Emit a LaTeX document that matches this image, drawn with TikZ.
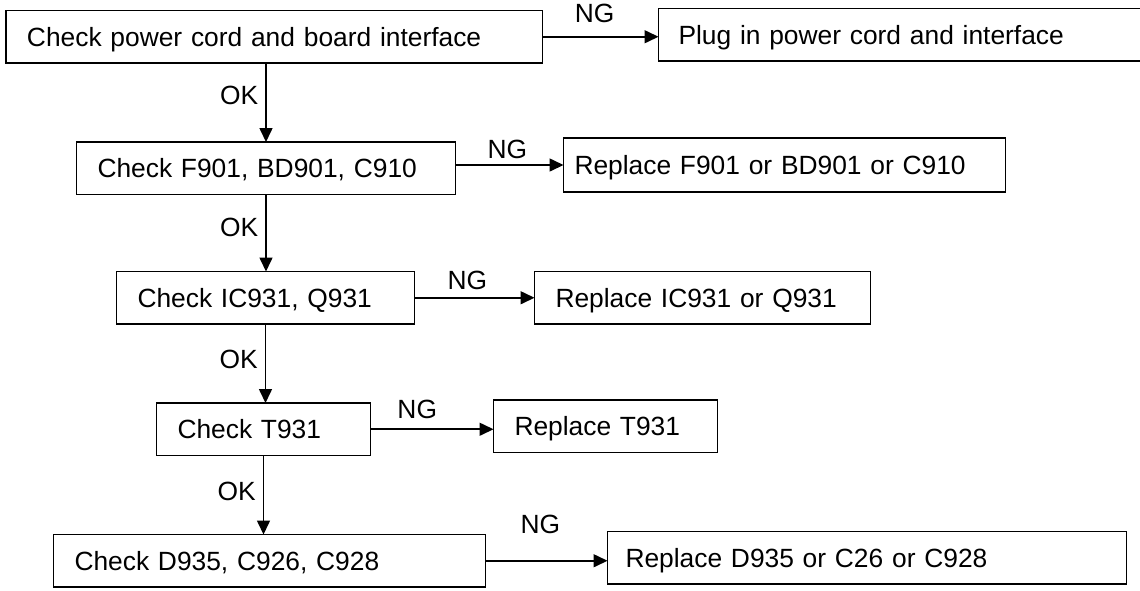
\documentclass[tikz,border=0pt]{standalone}
\usepackage{fontspec}
\setmainfont{Liberation Sans}
\usetikzlibrary{arrows.meta, positioning}
\tikzset{
  chkbox/.style = {
    rectangle, draw=black, line width=1.1pt, outer sep=0pt,
    minimum height=1.05cm, inner xsep=0.42cm, inner ysep=0pt,
    text height=0.38cm, text depth=0pt, align=left
  },
  arrow/.style = {-{Triangle[length=0.28cm, width=0.26cm]}, line width=0.9pt}
}

\begin{document}
\begin{tikzpicture}[
  every node/.style={font=\fontsize{15pt}{18pt}\selectfont},
  lbl/.style={inner sep=0pt, text height=0.38cm, text depth=0pt}
]
\useasboundingbox (0,0) rectangle (22.8,-11.8);

%% ── Left column: checks ─────────────────────────────
\node[chkbox, minimum width=10.73cm, text width=9.89cm,
      anchor=north west]
  (chkcord) at (0.12,-0.21) {Check power cord and board interface};

\node[chkbox, minimum width=7.58cm, text width=6.74cm,
      below=1.58cm of chkcord.south west, anchor=north west, xshift=1.41cm]
  (chkfuse) {Check F901, BD901, C910};

\node[chkbox, minimum width=5.96cm, text width=5.12cm,
      below=1.54cm of chkfuse.south west, anchor=north west, xshift=0.8cm]
  (chkic) {Check IC931, Q931};

\node[chkbox, minimum width=4.28cm, text width=3.44cm,
      below=1.58cm of chkic.south west, anchor=north west, xshift=0.8cm]
  (chktrans) {Check T931};

\node[chkbox, minimum width=8.64cm, text width=7.8cm,
      below=1.58cm of chktrans.south west, anchor=north west, xshift=-2.06cm]
  (chkdiode) {Check D935, C926, C928};

%% ── Right column: repairs ───────────────────────────
\node[chkbox, minimum width=11cm, text width=10.2cm, inner xsep=0.4cm,
      right=2.32cm of chkcord.north east, anchor=north west, yshift=0.04cm]
  (fixcord) {Plug in power cord and interface};

\node[chkbox, minimum width=8.84cm, text width=8.4cm, inner xsep=0.22cm,
      minimum height=1.08cm,
      right=2.16cm of chkfuse.north east, anchor=north west, yshift=0.08cm]
  (fixfuse) {Replace F901 or BD901 or C910};

\node[chkbox, minimum width=6.72cm, text width=5.88cm,
      right=2.4cm of chkic.north east, anchor=north west]
  (fixic) {Replace IC931 or Q931};

\node[chkbox, minimum width=4.48cm, text width=3.64cm,
      right=2.46cm of chktrans.north east, anchor=north west, yshift=0.06cm]
  (fixtrans) {Replace T931};

\node[chkbox, minimum width=10.38cm, text width=9.66cm, inner xsep=0.36cm,
      right=2.44cm of chkdiode.north east, anchor=north west, yshift=0.06cm]
  (fixdiode) {Replace D935 or C26 or C928};

%% ── OK arrows ───────────────────────────────────────
\draw[arrow] (chkfuse.north |- chkcord.south) --
  node[lbl, pos=0.4, left=0.14cm]{OK} (chkfuse.north);
\draw[arrow] (chkfuse.south) --
  node[lbl, pos=0.42, left=0.14cm]{OK} (chkfuse.south |- chkic.north);
\draw[arrow] (chkic.south) --
  node[lbl, pos=0.44, left=0.14cm]{OK} (chkic.south |- chktrans.north);
\draw[arrow] (chktrans.south) --
  node[lbl, pos=0.45, left=0.14cm]{OK} (chktrans.south |- chkdiode.north);

%% ── NG arrows ───────────────────────────────────────
\draw[arrow] (chkcord.east) --
  node[lbl, pos=0.45, above=0.27cm]{NG} (fixcord.west |- chkcord.east);
\draw[arrow] (fixfuse.west -| chkfuse.east) --
  node[lbl, pos=0.48, above=0.12cm]{NG} (fixfuse.west);
\draw[arrow] (chkic.east) --
  node[lbl, pos=0.44, above=0.14cm]{NG} (fixic.west |- chkic.east);
\draw[arrow] (chktrans.east) --
  node[lbl, pos=0.38, above=0.2cm]{NG} (fixtrans.west |- chktrans.east);
\draw[arrow] (chkdiode.east) --
  node[lbl, pos=0.45, above=0.52cm]{NG} (fixdiode.west |- chkdiode.east);

\end{tikzpicture}
\end{document}
